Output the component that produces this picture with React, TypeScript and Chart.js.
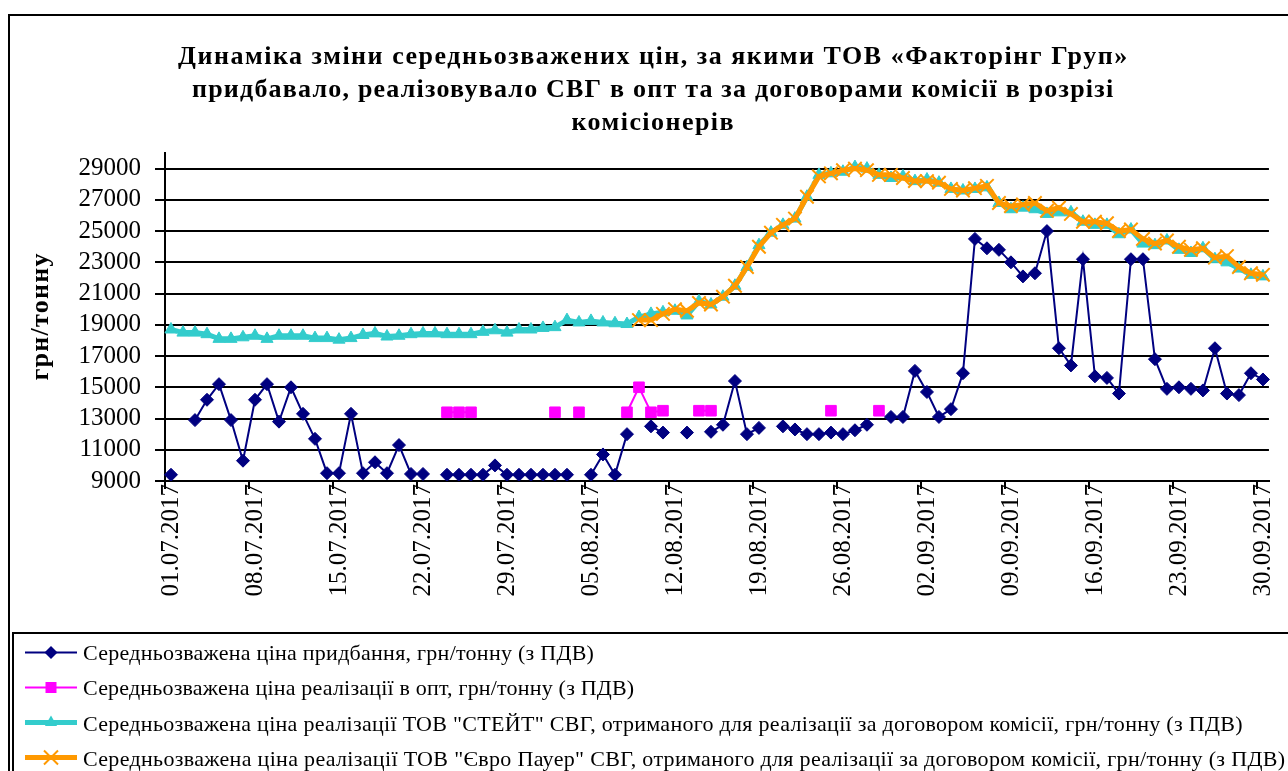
import React, { useEffect, useRef } from "react";
import { Chart, registerables } from "chart.js";

Chart.register(...registerables);

const DATES: string[] = [
  "01.07.2017","02.07.2017","03.07.2017","04.07.2017","05.07.2017","06.07.2017","07.07.2017",
  "08.07.2017","09.07.2017","10.07.2017","11.07.2017","12.07.2017","13.07.2017","14.07.2017",
  "15.07.2017","16.07.2017","17.07.2017","18.07.2017","19.07.2017","20.07.2017","21.07.2017",
  "22.07.2017","23.07.2017","24.07.2017","25.07.2017","26.07.2017","27.07.2017","28.07.2017",
  "29.07.2017","30.07.2017","31.07.2017","01.08.2017","02.08.2017","03.08.2017","04.08.2017",
  "05.08.2017","06.08.2017","07.08.2017","08.08.2017","09.08.2017","10.08.2017","11.08.2017",
  "12.08.2017","13.08.2017","14.08.2017","15.08.2017","16.08.2017","17.08.2017","18.08.2017",
  "19.08.2017","20.08.2017","21.08.2017","22.08.2017","23.08.2017","24.08.2017","25.08.2017",
  "26.08.2017","27.08.2017","28.08.2017","29.08.2017","30.08.2017","31.08.2017","01.09.2017",
  "02.09.2017","03.09.2017","04.09.2017","05.09.2017","06.09.2017","07.09.2017","08.09.2017",
  "09.09.2017","10.09.2017","11.09.2017","12.09.2017","13.09.2017","14.09.2017","15.09.2017",
  "16.09.2017","17.09.2017","18.09.2017","19.09.2017","20.09.2017","21.09.2017","22.09.2017",
  "23.09.2017","24.09.2017","25.09.2017","26.09.2017","27.09.2017","28.09.2017","29.09.2017",
  "30.09.2017",
];

// Середньозважена ціна придбання
const BUY: (number | null)[] = [
  9400, null, 12900, 14200, 15200, 12900, 10300, 14200, 15200, 12800,
  15000, 13300, 11700, 9500, 9500, 13300, 9500, 10200, 9500, 11300,
  9450, 9450, null, 9400, 9400, 9400, 9400, 10000, 9400, 9400,
  9400, 9400, 9400, 9400, null, 9400, 10700, 9400, 12000, null,
  12500, 12100, null, 12100, null, 12150, 12600, 15400, 12000, 12400,
  null, 12500, 12300, 12000, 12000, 12100, 12000, 12250, 12600, null,
  13100, 13100, 16050, 14700, 13100, 13600, 15900, 24500, 23900, 23800,
  23000, 22100, 22300, 25000, 17500, 16400, 23200, 15700, 15600, 14600,
  23200, 23200, 16800, 14900, 15000, 14900, 14800, 17500, 14600, 14500,
  15900, 15500,
];

// Середньозважена ціна реалізації в опт
const WHOLESALE: (number | null)[] = [
  null, null, null, null, null, null, null, null, null, null,
  null, null, null, null, null, null, null, null, null, null,
  null, null, null, 13400, 13400, 13400, null, null, null, null,
  null, null, 13400, null, 13400, null, null, null, 13400, 15000,
  13400, 13500, null, null, 13500, 13500, null, null, null, null,
  null, null, null, null, null, 13500, null, null, null, 13500,
  null, null, null, null, null, null, null, null, null, null,
  null, null, null, null, null, null, null, null, null, null,
  null, null, null, null, null, null, null, null, null, null,
  null, null,
];

// ТОВ "СТЕЙТ"
const STATE: (number | null)[] = [
  18700, 18500, 18500, 18400, 18100, 18100, 18200, 18300, 18100, 18300,
  18300, 18300, 18150, 18150, 18050, 18150, 18350, 18450, 18250, 18300,
  18400, 18450, 18450, 18400, 18400, 18400, 18550, 18650, 18500, 18700,
  18700, 18800, 18850, 19300, 19150, 19250, 19150, 19100, 19050, 19500,
  19700, 19800, 19900, 19600, 20500, 20300, 20800, 21500, 22700, 24100,
  24900, 25400, 25800, 27200, 28600, 28700, 28800, 29100, 29000, 28600,
  28400, 28500, 28200, 28300, 28100, 27700, 27600, 27700, 27800, 26800,
  26400, 26500, 26400, 26100, 26200, 26200, 25600, 25400, 25400, 24800,
  25100, 24200, 24100, 24400, 23800, 23600, 23900, 23200, 23000, 22600,
  22200, 22100,
];

// ТОВ "Євро Пауер"
const EURO: (number | null)[] = [
  null, null, null, null, null, null, null, null, null, null,
  null, null, null, null, null, null, null, null, null, null,
  null, null, null, null, null, null, null, null, null, null,
  null, null, null, null, null, null, null, null, null, 19300,
  19300, 19700, 20000, 19900, 20400, 20300, 20800, 21500, 22700, 24000,
  24900, 25400, 25800, 27200, 28500, 28700, 28900, 29000, 28900, 28600,
  28600, 28400, 28200, 28200, 28100, 27700, 27600, 27750, 27900, 26800,
  26600, 26700, 26800, 26300, 26500, 26100, 25600, 25600, 25500, 25000,
  25100, 24500, 24200, 24400, 24000, 23800, 23900, 23300, 23400, 22700,
  22300, 22200,
];

const Y_TICKS: number[] = [9000, 11000, 13000, 15000, 17000, 19000, 21000, 23000, 25000, 27000, 29000];

const TITLE_LINES: string[] = [
  "Динаміка зміни середньозважених цін, за якими ТОВ «Факторінг Груп»",
  "придбавало, реалізовувало СВГ в опт та за договорами комісії в розрізі",
  "комісіонерів",
];

const Y_TITLE = "грн/тонну";

const SERIES_NAMES: string[] = [
  "Середньозважена ціна придбання, грн/тонну (з ПДВ)",
  "Середньозважена ціна реалізації в опт, грн/тонну (з ПДВ)",
  "Середньозважена ціна реалізації ТОВ \"СТЕЙТ\" СВГ, отриманого для реалізації за договором комісії, грн/тонну (з ПДВ)",
  "Середньозважена ціна реалізації ТОВ \"Євро Пауер\" СВГ, отриманого для реалізації за договором комісії, грн/тонну (з ПДВ)",
];

const SERIF = "'Liberation Serif', 'Times New Roman', serif";

const COLORS = ["#000080", "#FF00FF", "#33CCCC", "#FF9900"];
const LINE_WIDTHS = [2, 2, 5, 5];
const MARKERS = ["rectRot", "rect", "triangle", "crossRot"];

function drawFitted(ctx: any, text: string, x: number, y: number, width: number, align: "left" | "center") {
  ctx.letterSpacing = "0px";
  const w0 = ctx.measureText(text).width;
  const n = Array.from(text).length;
  const ls = n > 1 ? (width - w0) / (n - 1) : 0;
  ctx.letterSpacing = ls.toFixed(2) + "px";
  ctx.textAlign = "left";
  const sx = align === "center" ? x - width / 2 : x;
  ctx.fillText(text, sx, y);
  ctx.letterSpacing = "0px";
}

function drawMarker(ctx: CanvasRenderingContext2D, kind: string, x: number, y: number, color: string) {
  ctx.save();
  ctx.fillStyle = color;
  ctx.strokeStyle = color;
  ctx.lineWidth = 1;
  ctx.beginPath();
  if (kind === "rectRot") {
    const r = 6.5;
    ctx.moveTo(x, y - r);
    ctx.lineTo(x + r, y);
    ctx.lineTo(x, y + r);
    ctx.lineTo(x - r, y);
    ctx.closePath();
    ctx.fill();
  } else if (kind === "rect") {
    const s = 5.5;
    ctx.rect(x - s, y - s, 2 * s, 2 * s);
    ctx.fill();
  } else if (kind === "triangle") {
    const r = 7;
    ctx.moveTo(x, y - r);
    ctx.lineTo(x + r * 0.866, y + r * 0.5);
    ctx.lineTo(x - r * 0.866, y + r * 0.5);
    ctx.closePath();
    ctx.fill();
  } else {
    const r = 7;
    ctx.lineWidth = 2;
    ctx.moveTo(x - r, y - r);
    ctx.lineTo(x + r, y + r);
    ctx.moveTo(x + r, y - r);
    ctx.lineTo(x - r, y + r);
    ctx.stroke();
  }
  ctx.restore();
}

const decorPlugin = {
  id: "decor",
  afterDraw(chart: any) {
    const ctx = chart.ctx;
    ctx.save();
    // outer frame
    ctx.strokeStyle = "#000";
    ctx.lineWidth = 2;
    ctx.strokeRect(9, 15, 1400, 900);

    // title
    ctx.fillStyle = "#000";
    ctx.textBaseline = "alphabetic";
    ctx.font = `bold 26px ${SERIF}`;
    const titleWidths = [949, 921, 162];
    const titleBase = [64, 97, 130];
    TITLE_LINES.forEach((t, i) => drawFitted(ctx, t, 652.5, titleBase[i], titleWidths[i], "center"));

    // y axis title
    ctx.save();
    ctx.translate(48, 317);
    ctx.rotate(-Math.PI / 2);
    ctx.font = `bold 26px ${SERIF}`;
    drawFitted(ctx, Y_TITLE, 0, 0, 127, "center");
    ctx.restore();

    // legend box
    ctx.lineWidth = 2;
    ctx.strokeStyle = "#000";
    ctx.strokeRect(13, 633, 1400, 300);
    const rowLine = [652.5, 687.5, 722.5, 757.5];
    const rowBase = [659.5, 695, 730.5, 766];
    const textWidths = [511, 551, 1159, 1202];
    ctx.font = `22px ${SERIF}`;
    SERIES_NAMES.forEach((name, i) => {
      ctx.save();
      ctx.strokeStyle = COLORS[i];
      ctx.lineWidth = LINE_WIDTHS[i];
      ctx.beginPath();
      ctx.moveTo(25, rowLine[i]);
      ctx.lineTo(77, rowLine[i]);
      ctx.stroke();
      ctx.restore();
      drawMarker(ctx, MARKERS[i], 51, rowLine[i], COLORS[i]);
      ctx.fillStyle = "#000";
      ctx.textBaseline = "alphabetic";
      drawFitted(ctx, name, 83, rowBase[i], textWidths[i], "left");
    });
    ctx.restore();
  },
};

export default function App() {
  const ref = useRef<HTMLCanvasElement | null>(null);

  useEffect(() => {
    if (!ref.current) return;
    const tickFont = { family: SERIF, size: 25 };
    const chart = new Chart(ref.current, {
      type: "line",
      data: {
        labels: DATES,
        datasets: [
          {
            label: SERIES_NAMES[3],
            data: EURO,
            borderColor: COLORS[3],
            backgroundColor: COLORS[3],
            borderWidth: LINE_WIDTHS[3],
            pointStyle: "crossRot",
            pointRadius: 9.5,
            pointBorderWidth: 2,
            spanGaps: false,
            tension: 0,
            order: 0,
          },
          {
            label: SERIES_NAMES[2],
            data: STATE,
            borderColor: COLORS[2],
            backgroundColor: COLORS[2],
            borderWidth: LINE_WIDTHS[2],
            pointStyle: "triangle",
            pointRadius: 7,
            pointBorderWidth: 1,
            spanGaps: false,
            tension: 0,
            order: 1,
          },
          {
            label: SERIES_NAMES[1],
            data: WHOLESALE,
            borderColor: COLORS[1],
            backgroundColor: COLORS[1],
            borderWidth: LINE_WIDTHS[1],
            pointStyle: "rect",
            pointRadius: 7.5,
            pointBorderWidth: 1,
            spanGaps: false,
            tension: 0,
            order: 2,
          },
          {
            label: SERIES_NAMES[0],
            data: BUY,
            borderColor: COLORS[0],
            backgroundColor: COLORS[0],
            borderWidth: LINE_WIDTHS[0],
            pointStyle: "rectRot",
            pointRadius: 6.5,
            pointBorderWidth: 1,
            spanGaps: false,
            tension: 0,
            order: 3,
          },
        ],
      },
      options: {
        responsive: false,
        animation: false,
        events: [],
        layout: { padding: { top: 153, right: 10, left: 0, bottom: 0 } },
        plugins: {
          legend: { display: false },
          title: { display: false },
          tooltip: { enabled: false },
        },
        scales: {
          x: {
            type: "category",
            offset: true,
            grid: {
              display: true,
              offset: true,
              drawOnChartArea: false,
              drawTicks: true,
              tickLength: 8,
              lineWidth: 2,
              color: (c: any) => (c.index % 7 === 0 ? "#000" : "rgba(0,0,0,0)"),
            },
            border: { display: true, color: "#000", width: 2 },
            ticks: {
              autoSkip: false,
              maxRotation: 90,
              minRotation: 90,
              padding: -5,
              color: "#000",
              font: tickFont,
              callback: (_v: any, i: number) => (i % 7 === 0 ? DATES[i] : ""),
            },
            afterFit: (s: any) => {
              s.height = 290;
            },
          },
          y: {
            min: 9000,
            max: 30000,
            afterBuildTicks: (s: any) => {
              s.ticks = Y_TICKS.map((v) => ({ value: v }));
            },
            grid: { color: "#000", lineWidth: 2, tickLength: 10 },
            border: { display: true, color: "#000", width: 2 },
            ticks: {
              autoSkip: false,
              padding: 14,
              color: "#000",
              font: tickFont,
              callback: (v: any) => String(v),
            },
            afterFit: (s: any) => {
              s.width = 165;
            },
          },
        },
      },
      plugins: [decorPlugin],
    } as any);
    return () => chart.destroy();
  }, []);

  return (
    <div style={{ position: "fixed", left: 0, top: 0, width: 1288, height: 771, background: "#fff" }}>
      <canvas ref={ref} width={1288} height={771} style={{ display: "block" }} />
    </div>
  );
}
